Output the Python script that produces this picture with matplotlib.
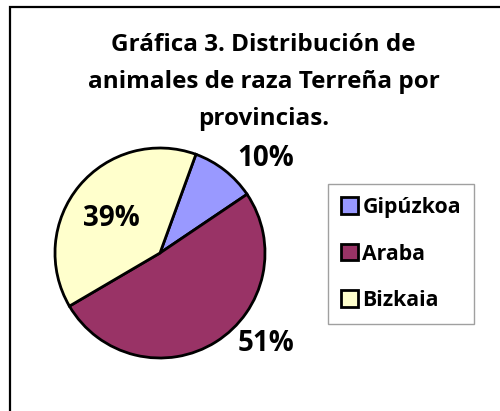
import matplotlib.pyplot as plt
from matplotlib.patches import Rectangle, Patch

plt.rcParams['font.family'] = ['Open Sans', 'DejaVu Sans']

provincias = ['Gipúzkoa', 'Araba', 'Bizkaia']
valores = [10, 51, 39]
colores = ['#9999FF', '#993366', '#FFFFCC']
# label offsets relative to pie centre, in radius units
pos_etiquetas = [(1.01, 0.90), (1.01, -0.86), (-0.46, 0.33)]

fig = plt.figure(figsize=(5, 4.11), dpi=100)

# outer frame (only left/top edges fall inside the image)
fig.patches.append(Rectangle((10 / 500, -0.1), 1.2, 1 - 7 / 411 + 0.1,
                             transform=fig.transFigure, fill=False,
                             edgecolor='black', linewidth=1.6))

fig.text(0.527, 1 - 82 / 411,
         'Gráfica 3. Distribución de\nanimales de raza Terreña por\nprovincias.',
         ha='center', va='center', fontsize=17.5, fontweight='bold',
         linespacing=1.7)

# pie axes: centre (160,253), radius 105 px
ax = fig.add_axes([(160 - 105) / 500, 1 - (253 + 105) / 411, 210 / 500, 210 / 411])
wedges, _ = ax.pie(valores, colors=colores, startangle=70, counterclock=False,
                   wedgeprops=dict(edgecolor='black', linewidth=2))
ax.set_xlim(-1, 1)
ax.set_ylim(-1, 1)
ax.set_aspect('equal')

total = sum(valores)
for v, (x, y) in zip(valores, pos_etiquetas):
    ax.text(x, y, f'{round(100 * v / total)}%', ha='center', va='center',
            fontsize=20, fontweight='bold', clip_on=False)

handles = [Patch(facecolor=c, edgecolor='black', linewidth=2) for c in colores]
leg = fig.legend(handles, provincias, loc='center',
                 bbox_to_anchor=(401 / 500, 1 - 254 / 411),
                 frameon=True, fancybox=False, edgecolor='#888888',
                 prop=dict(size=15.3, weight='bold'),
                 handlelength=0.8, handleheight=0.8, handletextpad=0.2,
                 labelspacing=1.2, borderpad=0.6, borderaxespad=0)
leg.get_frame().set_linewidth(1)

fig.savefig('out.png', dpi=100)
